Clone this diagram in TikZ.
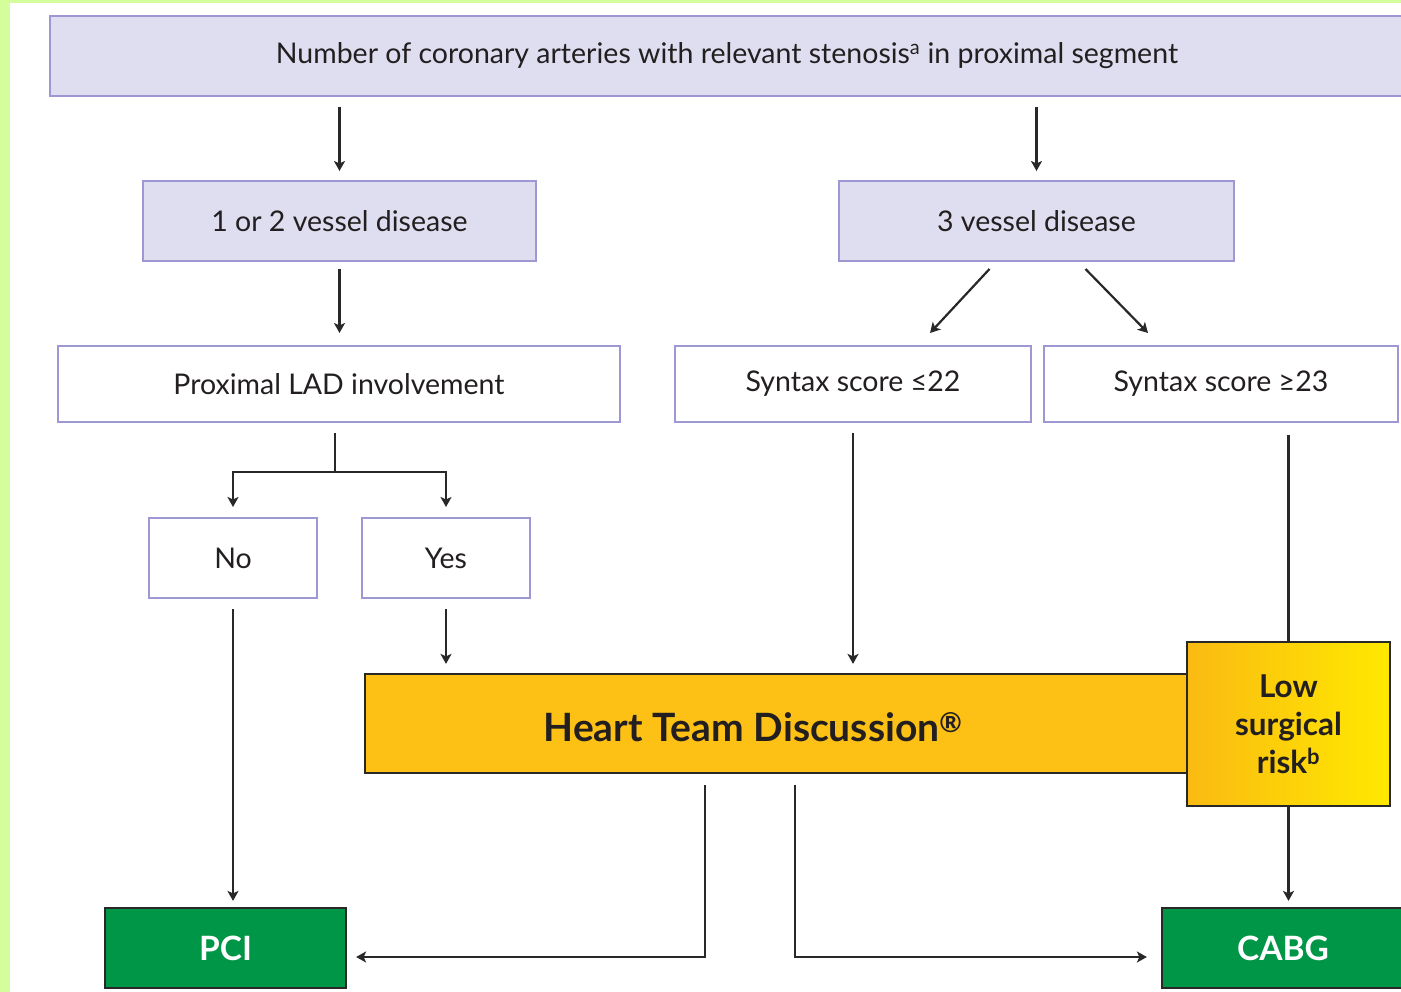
\documentclass[tikz,border=0pt]{standalone}
\usepackage{fontspec}
\setmainfont{Lato}
\usetikzlibrary{arrows.meta,calc}
\definecolor{lime}{RGB}{212,254,156}
\definecolor{lavfill}{RGB}{223,222,240}
\definecolor{lavline}{RGB}{158,152,210}
\definecolor{ink}{RGB}{35,31,32}
\definecolor{wire}{RGB}{40,40,40}
\definecolor{amber}{RGB}{252,193,20}
\definecolor{amberl}{RGB}{250,186,18}
\definecolor{amberr}{RGB}{255,233,0}
\definecolor{treat}{RGB}{0,150,72}
\begin{document}
\begin{tikzpicture}[x=1pt,y=-1pt,
  every node/.style={inner sep=0pt,text=ink,align=center},
  lavbox/.style={draw=lavline,line width=2pt,fill=lavfill,font=\fontsize{28.5}{32}\selectfont},
  plainbox/.style={draw=lavline,line width=2pt,fill=white,font=\fontsize{28.5}{32}\selectfont},
  teambox/.style={draw=wire,line width=2.2pt,fill=amber},
  riskbox/.style={draw=wire,line width=2.2pt,left color=amberl,right color=amberr,
    font=\bfseries\fontsize{31.5}{38}\selectfont},
  treatbox/.style={draw=wire,line width=2.2pt,fill=treat,text=white,font=\bfseries\fontsize{33.5}{36}\selectfont},
  arr/.style={draw=wire,line width=2.2pt,-{Stealth[length=10pt,width=11pt,inset=2.5pt]}},
  wireline/.style={draw=wire,line width=2.2pt}]
% page and frame strips
\useasboundingbox (0,0) rectangle (1401,992);
\fill[white] (0,0) rectangle (1401,992);
\fill[lime] (0,0) rectangle (10,992);
\fill[lime] (0,0) rectangle (1401,3);

% boxes
\node[lavbox,minimum width=1354pt,minimum height=80pt] (top) at (727,56)
  {Number of coronary arteries with relevant stenosis\textsuperscript{a} in proximal segment};
\node[lavbox,minimum width=393pt,minimum height=80pt] (b12) at (339.5,221) {1 or 2 vessel disease};
\node[lavbox,minimum width=395pt,minimum height=80pt] (b3) at (1036.5,221) {3 vessel disease};
\node[plainbox,minimum width=562pt,minimum height=76pt] (lad) at (339,384) {Proximal LAD involvement};
\node[plainbox,minimum width=356pt,minimum height=76pt] (syn22) at (853,384) {Syntax score ≤22};
\node[plainbox,minimum width=354pt,minimum height=76pt] (syn23) at (1221,384) {Syntax score ≥23};
\node[plainbox,minimum width=168pt,minimum height=80pt] (no) at (233,558) {No};
\node[plainbox,minimum width=168pt,minimum height=80pt] (yes) at (446,558) {Yes};
\node[teambox,minimum width=823pt,minimum height=99pt] (heart) at (776.5,723.5) {};
\node[font=\bfseries\fontsize{39}{42}\selectfont] (heartlabel) at (753,727)
  {Heart Team Discussion\textsuperscript{\textregistered}};
\node[riskbox,minimum width=203pt,minimum height=164pt] (risk) at (1288.5,724)
  {Low\\surgical\\risk\textsuperscript{b}};
\node[treatbox,minimum width=241pt,minimum height=80pt] (pci) at (225.5,948) {PCI};
\node[treatbox,minimum width=242pt,minimum height=80pt] (cabg) at (1283,948) {CABG};

% connectors
\draw[arr,shorten <=10pt,shorten >=9pt] (top.south -| b12.north) -- (b12.north);
\draw[arr,shorten <=10pt,shorten >=9pt] (top.south -| b3.north) -- (b3.north);
\draw[arr,shorten <=7pt,shorten >=12pt] (b12.south) -- (b12.south |- lad.north);
\draw[arr] ($(b3.south)+(-47,7)$) -- ($(syn22.north)+(77,-12)$);
\draw[arr] ($(b3.south)+(49,7)$) -- ($(syn23.north)+(-73,-12)$);
\coordinate (split) at (335,472);
\draw[wireline] (lad.south -| split) ++(0,10) -- (split);
\draw[arr,shorten >=10pt] (split) -| (no.north);
\draw[arr,shorten >=10pt] (split) -| (yes.north);
\draw[arr,shorten <=10pt,shorten >=6pt] (no.south) -- (no.south |- pci.north);
\draw[arr,shorten <=10pt,shorten >=9pt] (yes.south) -- (yes.south |- heart.north);
\draw[arr,shorten <=10pt,shorten >=9pt] (syn22.south) -- (syn22.south |- heart.north);
\draw[wireline,shorten <=12pt] (risk.north |- syn23.south) -- (risk.north);
\draw[arr,shorten >=6pt] (risk.south) -- (risk.south |- cabg.north);
\draw[arr] ($(heart.south)+(-71.5,11)$) |- ($(pci.east)+(9,9)$);
\draw[arr] ($(heart.south)+(18.5,11)$) |- ($(cabg.west)+(-14,9)$);
\end{tikzpicture}
\end{document}
